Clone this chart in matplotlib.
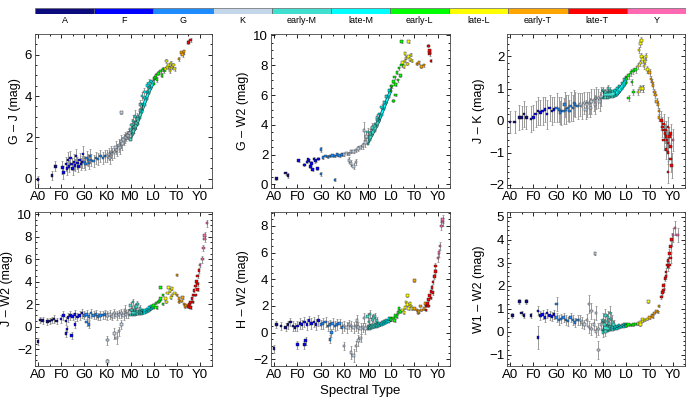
import matplotlib
matplotlib.use('Agg')
import matplotlib.pyplot as plt
from matplotlib.ticker import MultipleLocator, AutoMinorLocator

plt.rcParams['font.family'] = ['Liberation Sans', 'DejaVu Sans']

# ---------------- classes / colour key ----------------
CLASS_NAMES = ['A', 'F', 'G', 'K', 'early-M', 'late-M', 'early-L', 'late-L',
               'early-T', 'late-T', 'Y']
CLASS_COLORS = ['#0b0b7e', '#0000ff', '#1e8cff', '#c4d6ea', '#40e0d0', '#00ffff',
                '#00ff00', '#ffff00', '#ffa500', '#ff0000', '#ff69b4']
CLASS_EDGES = [0, 10, 20, 30, 40, 45, 50, 55, 60, 65, 70, 80]
SPT_TICKS = [0, 10, 20, 30, 40, 50, 60, 70]
SPT_LABELS = ['A0', 'F0', 'G0', 'K0', 'M0', 'L0', 'T0', 'Y0']

# ---------------- panel 1: G - J ----------------
GJ_SPT = [0, 6, 7.5,
          10.5, 11, 12, 12.5, 13, 13.5, 14, 14.5, 15, 15.5, 16, 16.5, 17, 17.5, 18, 18.5, 19, 19.5,
          20, 20.5, 21, 21.5, 22, 22.5, 23, 24, 25, 26, 27, 28, 29,
          30, 30.5, 31, 31.5, 32, 33, 33.5, 34, 35, 35.5, 36, 36.5, 37, 37.5, 38, 38.5, 39, 39.5, 36,
          40, 40.5, 41, 41.5, 42, 42.5, 43, 44, 45, 46, 47, 48,
          50.5, 51, 51.5, 52, 53, 53.5, 54, 54.5,
          55, 55.5, 56, 56.5, 57, 57, 57.5, 58, 58.5, 59,
          61, 62, 62.5, 63, 65, 66]
GJ_VAL = [-0.05, 0.15, 0.6,
          0.55, 0.3, 0.7, 0.5, 0.9, 0.6, 1.0, 0.7, 0.5, 0.8, 0.65, 1.1, 0.75, 0.6, 0.9, 0.7, 0.8, 1.2,
          0.8, 0.7, 1.0, 0.9, 0.75, 1.1, 0.9, 0.85, 1.0, 0.95, 1.1, 1.0, 1.1,
          1.1, 1.2, 1.0, 1.3, 1.2, 1.3, 1.5, 1.4, 1.6, 1.5, 1.8, 1.7, 1.9, 2.0, 2.0, 2.1, 2.1, 2.2, 3.2,
          2.4, 2.6, 2.8, 2.5, 3.0, 2.7, 2.9, 3.6, 4.0, 4.2, 4.5, 4.6,
          4.9, 5.0, 4.8, 5.1, 5.2, 5.0, 5.3, 5.2,
          5.3, 5.7, 5.4, 5.5, 5.35, 5.2, 5.6, 5.4, 5.5, 5.3,
          5.8, 6.1, 6.0, 6.15, 6.6, 6.7]
GJ_ERR = [0.2, 0.2, 0.25,
          0.3, 0.3, 0.35, 0.3, 0.4, 0.3, 0.35, 0.3, 0.3, 0.4, 0.3, 0.35, 0.3, 0.3, 0.35, 0.3, 0.3, 0.4,
          0.3, 0.3, 0.35, 0.3, 0.3, 0.35, 0.3, 0.3, 0.3, 0.3, 0.3, 0.3, 0.3,
          0.3, 0.3, 0.3, 0.3, 0.3, 0.3, 0.3, 0.3, 0.3, 0.3, 0.3, 0.3, 0.25, 0.25, 0.2, 0.2, 0.2, 0.2, 0.05,
          0.3, 0.3, 0.3, 0.3, 0.3, 0.3, 0.3, 0.2, 0.2, 0.2, 0.2, 0.2,
          0.1, 0.1, 0.1, 0.1, 0.1, 0.1, 0.1, 0.1,
          0.1, 0.1, 0.1, 0.1, 0.1, 0.1, 0.1, 0.1, 0.1, 0.1,
          0.1, 0.1, 0.1, 0.1, 0.1, 0.1]

# M-dwarf band (dense sequence), shared spectral grid
BAND_SPT = [40, 41, 42, 43, 44, 45, 46, 47, 48, 49, 50]
GJ_LO = [1.9, 2.15, 2.4, 2.65, 2.95, 3.25, 3.55, 3.85, 4.15, 4.4, 4.6]
GJ_HI = [2.25, 2.5, 2.75, 3.0, 3.3, 3.6, 3.9, 4.2, 4.45, 4.7, 4.85]

# ---------------- panel 2: G - W2 ----------------
GW_SPT = [1, 5, 6, 10.5,
          13, 14, 15, 15.5, 16, 16.5, 17, 18, 18.5, 19, 14.5, 17.5,
          20, 20, 21, 22, 23, 24, 25, 26, 26, 27, 28, 29,
          30, 31, 32, 32, 33, 33, 34, 34, 35, 35, 36, 37, 38, 39, 38.5, 39.5,
          40, 41, 42, 43, 44, 46,
          50.5, 51, 51.5, 52, 52.5, 53, 53.5, 54, 54.5, 51, 52, 54.5,
          55, 55.5, 56, 56, 56.5, 57, 57.5, 57.5, 58, 58.5, 59,
          61, 62, 63, 64, 67,
          66, 66.5, 66.5, 66.5]
GW_VAL = [0.4, 0.75, 0.6, 1.6,
          1.3, 1.5, 1.6, 1.2, 1.4, 1.0, 1.7, 1.6, 1.05, 1.7, 1.65, 1.55,
          2.35, 0.7, 1.8, 1.9, 1.85, 1.9, 1.95, 1.9, 0.3, 2.0, 1.95, 2.0,
          2.0, 2.1, 2.05, 1.6, 2.2, 1.4, 2.2, 1.2, 2.3, 1.5, 2.4, 2.5, 2.6, 2.8, 3.6, 3.2,
          3.5, 3.4, 3.8, 3.9, 4.5, 5.2,
          6.6, 6.9, 7.2, 6.7, 7.5, 7.0, 7.8, 7.3, 8.0, 5.6, 6.0, 9.6,
          8.2, 7.9, 8.3, 8.8, 8.5, 8.1, 8.6, 9.6, 8.4, 8.7, 8.3,
          8.1, 8.2, 7.9, 8.0, 8.3,
          9.3, 8.75, 8.9, 9.0]
GW_ERR = [0.1, 0.1, 0.15, 0.1,
          0.1, 0.1, 0.1, 0.1, 0.15, 0.1, 0.1, 0.1, 0.1, 0.1, 0.1, 0.1,
          0.15, 0.15, 0.1, 0.1, 0.1, 0.1, 0.1, 0.1, 0.1, 0.1, 0.1, 0.1,
          0.1, 0.1, 0.1, 0.2, 0.1, 0.2, 0.1, 0.2, 0.1, 0.2, 0.15, 0.15, 0.2, 0.3, 0.6, 0.4,
          0.3, 0.3, 0.3, 0.2, 0.2, 0.2,
          0.1, 0.1, 0.1, 0.1, 0.1, 0.1, 0.1, 0.1, 0.1, 0.1, 0.1, 0.1,
          0.1, 0.1, 0.1, 0.1, 0.1, 0.1, 0.1, 0.1, 0.1, 0.1, 0.1,
          0.1, 0.1, 0.1, 0.1, 0.1,
          0.1, 0.1, 0.1, 0.1]
GW_LO = [2.7, 3.0, 3.3, 3.6, 3.9, 4.25, 4.65, 5.05, 5.45, 5.85, 6.25]
GW_HI = [3.2, 3.45, 3.75, 4.05, 4.35, 4.7, 5.1, 5.5, 5.9, 6.3, 6.6]

# ---------------- panel 3: J - K ----------------
JK_SPT = [0, 2, 4, 5, 6, 7, 9,
          10, 11, 12, 13, 14, 15, 16, 17, 18, 19,
          20, 21, 22, 23, 24, 25, 26, 27, 28, 29, 21.5, 23.5, 25.5, 27.5,
          30, 31, 32, 33, 34, 35, 36, 37, 38, 39, 32.5, 34.5, 36.5, 38.5,
          40, 41, 42, 43,
          50, 51, 52, 53, 54, 51, 53, 52.5,
          55, 55.5, 56, 56, 56.5, 56.5, 57, 57, 57.5, 58, 58.5, 59, 55, 56, 57,
          60, 60.5, 61, 61.5, 62, 62.5, 63, 63.5, 64, 64,
          65, 65.5, 66, 66, 66, 66.5, 67, 67, 67, 67.5, 68, 68, 68, 68, 68.5, 69, 69, 69, 69.5, 70]
JK_VAL = [-0.05, -0.05, 0.1, 0.1, 0.2, 0.1, 0.05,
          0.1, 0.2, 0.3, 0.25, 0.3, 0.35, 0.2, 0.4, 0.3, 0.35,
          0.4, 0.35, 0.3, 0.3, 0.35, 0.4, 0.45, 0.4, 0.5, 0.45, 0.25, 0.5, 0.3, 0.55,
          0.5, 0.45, 0.55, 0.5, 0.55, 0.6, 0.65, 0.7, 0.7, 0.75, 0.35, 0.4, 0.5, 0.6,
          0.95, 0.9, 1.0, 0.95,
          1.3, 1.4, 1.5, 1.55, 1.6, 0.7, 0.9, 1.2,
          1.7, 2.2, 1.8, 2.4, 2.0, 2.5, 1.9, 1.0, 1.7, 1.85, 2.0, 1.6, 0.9, 1.0, 1.0,
          1.5, 1.3, 1.2, 1.1, 0.9, 0.8, 0.6, 0.5, 0.3, 0.1,
          0.0, -0.2, -0.3, -0.1, -0.6, -0.4, -0.5, -0.3, -0.9, -0.6, -0.7, -0.2, -1.0, -1.6, -0.5, -0.8, -0.4, -1.2, -1.4, -0.6]
JK_ERR = [0.35, 0.35, 0.4, 0.35, 0.4, 0.35, 0.4,
          0.4, 0.4, 0.45, 0.4, 0.45, 0.4, 0.45, 0.4, 0.45, 0.4,
          0.45, 0.4, 0.45, 0.4, 0.45, 0.4, 0.45, 0.4, 0.4, 0.4, 0.35, 0.4, 0.35, 0.4,
          0.35, 0.4, 0.35, 0.4, 0.35, 0.4, 0.35, 0.35, 0.3, 0.3, 0.3, 0.3, 0.3, 0.3,
          0.1, 0.1, 0.1, 0.1,
          0.1, 0.1, 0.1, 0.1, 0.1, 0.1, 0.1, 0.1,
          0.1, 0.1, 0.1, 0.1, 0.1, 0.1, 0.1, 0.1, 0.1, 0.1, 0.1, 0.1, 0.1, 0.1, 0.1,
          0.1, 0.1, 0.1, 0.1, 0.1, 0.1, 0.1, 0.1, 0.1, 0.1,
          0.3, 0.3, 0.3, 0.3, 0.3, 0.3, 0.3, 0.3, 0.3, 0.3, 0.3, 0.3, 0.35, 0.35, 0.3, 0.35, 0.3, 0.4, 0.4, 0.35]
JK_LO = [0.7, 0.72, 0.72, 0.73, 0.74, 0.76, 0.8, 0.88, 0.98, 1.08, 1.18]
JK_HI = [0.92, 0.9, 0.9, 0.9, 0.92, 0.94, 1.0, 1.08, 1.18, 1.28, 1.35]

# ---------------- panel 4: J - W2 ----------------
JW_SPT = [0, 1, 2, 4, 5, 6, 7, 8,
          10, 11, 12, 13, 14, 15, 16, 17, 18, 19, 12, 12.5, 14.5, 16,
          20, 21, 22, 23, 24, 25, 26, 27, 28, 29, 22, 21,
          30, 31, 32, 33, 34, 35, 36, 37, 38, 39, 33, 34, 35, 36, 30, 30, 37.5,
          40, 41, 42, 43, 44, 40.5, 42.5,
          50, 51, 51.5, 52, 52.5, 53, 53, 54, 54,
          55, 55.5, 56, 56.5, 57, 57.5, 58, 58, 59, 60,
          60, 61, 61, 62, 62.5, 63, 63.5, 64,
          65, 65.5, 66, 66, 66.5, 67, 67, 67.5, 68, 68, 68.5, 69, 69, 69, 69.5, 70,
          71, 71.5, 72, 72, 73]
JW_VAL = [-1.3, 0.6, 0.55, 0.45, 0.5, 0.6, 0.7, 0.5,
          0.7, 1.0, 0.5, 0.8, 1.0, 0.9, 1.1, 0.85, 1.0, 1.2, -0.6, -0.2, -0.8, 0.2,
          1.0, 1.1, 0.9, 1.2, 1.0, 1.1, 0.9, 1.0, 1.05, 1.1, 0.2, 0.4,
          1.0, 1.1, 0.9, 1.2, 1.0, 1.1, 1.2, 1.0, 1.1, 1.2, -0.6, -1.0, -0.4, 0.2, -3.1, -1.2, 1.5,
          1.9, 2.2, 1.7, 2.0, 1.6, 1.5, 1.8,
          1.9, 2.1, 1.7, 2.2, 2.3, 2.5, 3.5, 2.8, 2.0,
          2.5, 2.2, 3.0, 3.5, 3.2, 2.6, 2.8, 3.4, 3.0, 4.6,
          2.8, 2.5, 2.2, 2.3, 2.6, 2.0, 1.8, 1.9,
          1.8, 2.0, 2.2, 1.7, 2.5, 2.8, 2.2, 3.2, 3.6, 2.8, 4.0, 4.5, 3.3, 3.8, 5.0, 5.5,
          6.0, 7.0, 7.8, 8.1, 9.2]
JW_ERR = [0.3, 0.25, 0.3, 0.3, 0.3, 0.3, 0.35, 0.3,
          0.35, 0.4, 0.35, 0.4, 0.4, 0.35, 0.4, 0.35, 0.4, 0.4, 0.3, 0.3, 0.3, 0.3,
          0.35, 0.4, 0.35, 0.4, 0.35, 0.4, 0.35, 0.4, 0.35, 0.4, 0.3, 0.3,
          0.4, 0.4, 0.35, 0.4, 0.4, 0.35, 0.4, 0.4, 0.35, 0.4, 0.5, 0.5, 0.4, 0.4, 0.2, 0.4, 0.4,
          0.3, 0.3, 0.3, 0.3, 0.3, 0.3, 0.3,
          0.1, 0.1, 0.1, 0.1, 0.1, 0.1, 0.1, 0.1, 0.1,
          0.1, 0.1, 0.1, 0.1, 0.1, 0.1, 0.1, 0.1, 0.1, 0.1,
          0.1, 0.1, 0.1, 0.1, 0.1, 0.1, 0.1, 0.1,
          0.1, 0.1, 0.1, 0.1, 0.1, 0.1, 0.1, 0.1, 0.15, 0.1, 0.15, 0.2, 0.15, 0.15, 0.2, 0.2,
          0.3, 0.3, 0.3, 0.3, 0.3]
JW_LO = [1.05, 1.05, 1.05, 1.1, 1.1, 1.15, 1.2, 1.3, 1.4, 1.55, 1.7]
JW_HI = [1.45, 1.45, 1.4, 1.4, 1.4, 1.45, 1.5, 1.6, 1.7, 1.85, 1.95]

# ---------------- panel 5: H - W2 ----------------
HW_SPT = [0, 1, 3, 5, 6, 7, 8, 9,
          10, 11, 12, 13, 14, 15, 16, 17, 18, 19, 10, 13, 13.5,
          20, 21, 22, 23, 24, 25, 26, 27, 28, 29, 24, 24.5,
          30, 31, 32, 33, 34, 35, 36, 37, 38, 39, 33, 34, 35, 36, 30, 37, 35.5, 38.5,
          40, 41, 42, 43, 44, 40.5, 42.5,
          50, 51, 51.5, 52, 52.5, 53, 53.5, 54,
          55, 55.5, 56, 56.5, 57, 57, 57.5, 58, 58.5, 59,
          60, 60, 61, 61.5, 62, 62.5, 63, 64, 64.5,
          65, 65, 65.5, 66, 66, 66.5, 67, 67, 67.5, 68, 68, 68.5, 69, 69,
          70, 70.5, 71, 71.5, 72, 72]
HW_VAL = [-1.2, 0.6, 0.5, 0.4, 0.6, 0.8, 0.5, 0.4,
          0.5, 0.7, 0.6, 0.8, 0.6, 0.9, 0.7, 0.8, 0.6, 0.9, -0.9, -0.9, -0.6,
          0.6, 0.7, 0.8, 0.5, 0.6, 0.7, 0.5, 0.6, 0.7, 0.4, -0.5, 0.0,
          0.5, 0.4, 0.6, 0.5, 0.4, 0.5, 0.4, 0.3, 0.4, 0.3, -1.5, -1.7, -1.0, -0.6, -1.0, -0.4, 0.9, 1.1,
          1.2, 1.4, 1.0, 1.2, 0.9, 0.8, 1.1,
          1.0, 1.1, 0.9, 1.3, 1.2, 1.5, 1.8, 1.6,
          1.7, 1.5, 1.9, 2.3, 2.1, 2.8, 1.8, 2.2, 2.0, 1.8,
          1.8, 3.9, 1.7, 1.5, 1.6, 2.0, 1.7, 1.8, 2.2,
          2.0, 1.7, 2.2, 2.5, 2.0, 2.8, 3.1, 2.6, 3.4, 3.8, 3.0, 4.2, 4.6, 5.0,
          5.6, 6.0, 6.5, 8.0, 8.3, 8.5]
HW_ERR = [0.3, 0.25, 0.3, 0.3, 0.3, 0.3, 0.35, 0.3,
          0.35, 0.4, 0.35, 0.4, 0.4, 0.35, 0.4, 0.35, 0.4, 0.4, 0.3, 0.3, 0.3,
          0.35, 0.4, 0.35, 0.4, 0.35, 0.4, 0.35, 0.4, 0.35, 0.4, 0.3, 0.3,
          0.4, 0.4, 0.35, 0.4, 0.4, 0.35, 0.4, 0.4, 0.35, 0.4, 0.5, 0.5, 0.4, 0.4, 0.3, 0.3, 0.4, 0.4,
          0.3, 0.3, 0.3, 0.3, 0.3, 0.3, 0.3,
          0.1, 0.1, 0.1, 0.1, 0.1, 0.1, 0.1, 0.1,
          0.1, 0.1, 0.1, 0.1, 0.1, 0.1, 0.1, 0.1, 0.1, 0.1,
          0.1, 0.1, 0.1, 0.1, 0.1, 0.1, 0.1, 0.1, 0.1,
          0.1, 0.1, 0.1, 0.1, 0.1, 0.1, 0.1, 0.1, 0.15, 0.15, 0.15, 0.2, 0.2, 0.2,
          0.3, 0.3, 0.3, 0.3, 0.3, 0.3]
HW_LO = [0.25, 0.3, 0.35, 0.4, 0.45, 0.5, 0.58, 0.66, 0.74, 0.84, 0.92]
HW_HI = [0.5, 0.55, 0.6, 0.65, 0.7, 0.75, 0.82, 0.9, 0.98, 1.06, 1.12]

# ---------------- panel 6: W1 - W2 ----------------
WW_SPT = [1, 4, 5, 6, 7, 9,
          12, 12, 13, 14, 15, 16, 17, 18, 19,
          20, 20, 21, 22, 23, 24, 25, 26, 27, 28, 29,
          30, 31, 32, 33, 34, 35, 36, 37, 38, 39, 34, 35, 37, 38, 36.5,
          40, 41, 42, 43, 44, 40, 40.5, 41, 41.5, 42.5, 43.5, 44.5,
          50, 51, 52, 53, 54,
          55, 56, 56, 57, 57, 58, 59,
          59.5, 60, 61, 61.5, 62, 63, 63.5, 64,
          65, 65.5, 66, 66, 66.5, 67, 67, 67.5, 68, 68, 68.5, 68.5, 69, 69, 69.5,
          70, 71, 72]
WW_VAL = [0.7, 1.3, 0.8, 0.7, 1.3, 0.7,
          0.9, -0.25, 0.7, 0.75, 0.6, 0.8, 0.7, 0.65, 0.75,
          0.6, 1.2, 0.5, 0.55, 0.6, 0.5, 0.45, 0.6, 0.5, 0.4, 0.5,
          0.5, 0.4, 0.3, 0.5, 0.2, 0.1, 0.3, 0.0, 0.1, 0.3, 1.2, 0.9, 0.8, -0.8, 3.4,
          0.5, 0.7, 0.6, 0.8, 0.4, -0.05, 0.3, 0.0, 0.45, 0.35, 0.55, 0.3,
          0.25, 0.3, 0.28, 0.3, 0.32,
          0.35, 0.4, 0.3, 0.45, 0.55, 0.5, 0.55,
          1.3, 0.6, 0.7, 0.65, 0.8, 0.9, 0.85, 1.1,
          1.5, 1.7, 2.0, 1.8, 2.3, 2.6, 2.4, 2.9, 3.1, 2.8, 3.4, 2.9, 3.7, 3.2, 4.0,
          4.2, 4.5, 4.2]
WW_ERR = [0.1, 0.1, 0.1, 0.1, 0.1, 0.1,
          0.2, 0.5, 0.2, 0.2, 0.2, 0.2, 0.2, 0.2, 0.2,
          0.2, 0.3, 0.2, 0.2, 0.2, 0.2, 0.2, 0.2, 0.2, 0.2, 0.2,
          0.2, 0.25, 0.2, 0.25, 0.25, 0.25, 0.25, 0.25, 0.25, 0.25, 0.4, 0.35, 0.3, 0.4, 0.05,
          0.3, 0.3, 0.3, 0.3, 0.3, 0.2, 0.25, 0.2, 0.3, 0.25, 0.3, 0.2,
          0.05, 0.05, 0.05, 0.05, 0.05,
          0.05, 0.05, 0.05, 0.05, 0.05, 0.05, 0.05,
          0.05, 0.05, 0.05, 0.05, 0.05, 0.05, 0.05, 0.05,
          0.1, 0.1, 0.1, 0.1, 0.1, 0.15, 0.1, 0.15, 0.15, 0.15, 0.2, 0.15, 0.25, 0.2, 0.3,
          0.3, 0.3, 0.3]
WW_LO = [0.05, 0.03, 0.04, 0.06, 0.08, 0.1, 0.13, 0.16, 0.19, 0.22, 0.24]
WW_HI = [0.4, 0.3, 0.25, 0.22, 0.2, 0.22, 0.24, 0.27, 0.3, 0.32, 0.34]

PANELS = [
    ('G \u2013 J (mag)', GJ_SPT, GJ_VAL, GJ_ERR, GJ_LO, GJ_HI, (-0.45, 7.0), 2),
    ('G \u2013 W2 (mag)', GW_SPT, GW_VAL, GW_ERR, GW_LO, GW_HI, (-0.25, 10.1), 2),
    ('J \u2013 K (mag)', JK_SPT, JK_VAL, JK_ERR, JK_LO, JK_HI, (-2.1, 2.7), 1),
    ('J \u2013 W2 (mag)', JW_SPT, JW_VAL, JW_ERR, JW_LO, JW_HI, (-3.5, 10.2), 2),
    ('H \u2013 W2 (mag)', HW_SPT, HW_VAL, HW_ERR, HW_LO, HW_HI, (-2.5, 9.05), 2),
    ('W1 \u2013 W2 (mag)', WW_SPT, WW_VAL, WW_ERR, WW_LO, WW_HI, (-1.5, 5.2), 1),
]

W, H = 700, 399
fig = plt.figure(figsize=(W / 100, H / 100), dpi=100)

COLS = [(35, 212), (271, 450), (507, 685)]
ROWS = [(34, 188), (212, 366)]


def class_color(s):
    for i in range(len(CLASS_NAMES)):
        if CLASS_EDGES[i] <= s < CLASS_EDGES[i + 1]:
            return CLASS_COLORS[i]
    return CLASS_COLORS[-1]


for k, (ylabel, spt, val, err, lo, hi, ylim, ystep) in enumerate(PANELS):
    c0, c1 = COLS[k % 3]
    r0, r1 = ROWS[k // 3]
    ax = fig.add_axes([c0 / W, 1 - r1 / H, (c1 - c0) / W, (r1 - r0) / H])
    # error bars
    ax.errorbar(spt, val, yerr=err, fmt='none', ecolor='#8a8a8a', elinewidth=0.6,
                capsize=0.8, capthick=0.5, zorder=1)
    # M-dwarf band (early-M then late-M)
    ax.fill_between(BAND_SPT[:6], lo[:6], hi[:6], facecolor=CLASS_COLORS[4],
                    edgecolor='#1a4a4a', linewidth=0.5, zorder=2)
    ax.fill_between(BAND_SPT[5:], lo[5:], hi[5:], facecolor=CLASS_COLORS[5],
                    edgecolor='#1a4a4a', linewidth=0.5, zorder=2)
    ax.scatter(BAND_SPT, lo, s=2.5, c=[class_color(s) for s in BAND_SPT],
               edgecolors='k', linewidths=0.3, marker='s', zorder=3)
    ax.scatter(BAND_SPT, hi, s=2.5, c=[class_color(s) for s in BAND_SPT],
               edgecolors='k', linewidths=0.3, marker='s', zorder=3)
    # individual objects
    ax.scatter(spt, val, s=3.2, c=[class_color(s) for s in spt], edgecolors='#222222',
               linewidths=0.3, marker='s', zorder=4)

    ax.set_xlim(-1.3, 75.2)
    ax.set_ylim(*ylim)
    ax.set_xticks(SPT_TICKS)
    ax.set_xticklabels(SPT_LABELS)
    ax.xaxis.set_minor_locator(MultipleLocator(5))
    ax.yaxis.set_major_locator(MultipleLocator(ystep))
    ax.yaxis.set_minor_locator(AutoMinorLocator(4 if ystep == 2 else 5))
    ax.tick_params(which='both', direction='in', top=True, right=True, width=0.6)
    ax.tick_params(which='major', length=3, labelsize=9.5, pad=2)
    ax.tick_params(which='minor', length=1.5)
    for sp in ax.spines.values():
        sp.set_linewidth(0.6)
        sp.set_color('#444444')
    ax.set_ylabel(ylabel, fontsize=9, labelpad=3)
    if k == 4:
        ax.set_xlabel('Spectral Type', fontsize=9.5, labelpad=3)

# ---------------- colour key at top ----------------
kax = fig.add_axes([35 / W, 1 - 14 / H, (686 - 35) / W, 6 / H])
n = len(CLASS_NAMES)
kax.bar(range(n), [1] * n, width=1.0, color=CLASS_COLORS, edgecolor='#666666',
        linewidth=0.5, align='edge')
kax.set_xlim(0, n)
kax.set_ylim(0, 1)
kax.set_xticks([i + 0.5 for i in range(n)])
kax.set_xticklabels(CLASS_NAMES, fontsize=6.5)
kax.tick_params(length=0, pad=1.5)
kax.set_yticks([])
for sp in kax.spines.values():
    sp.set_visible(False)

fig.savefig('out.png', dpi=100)
